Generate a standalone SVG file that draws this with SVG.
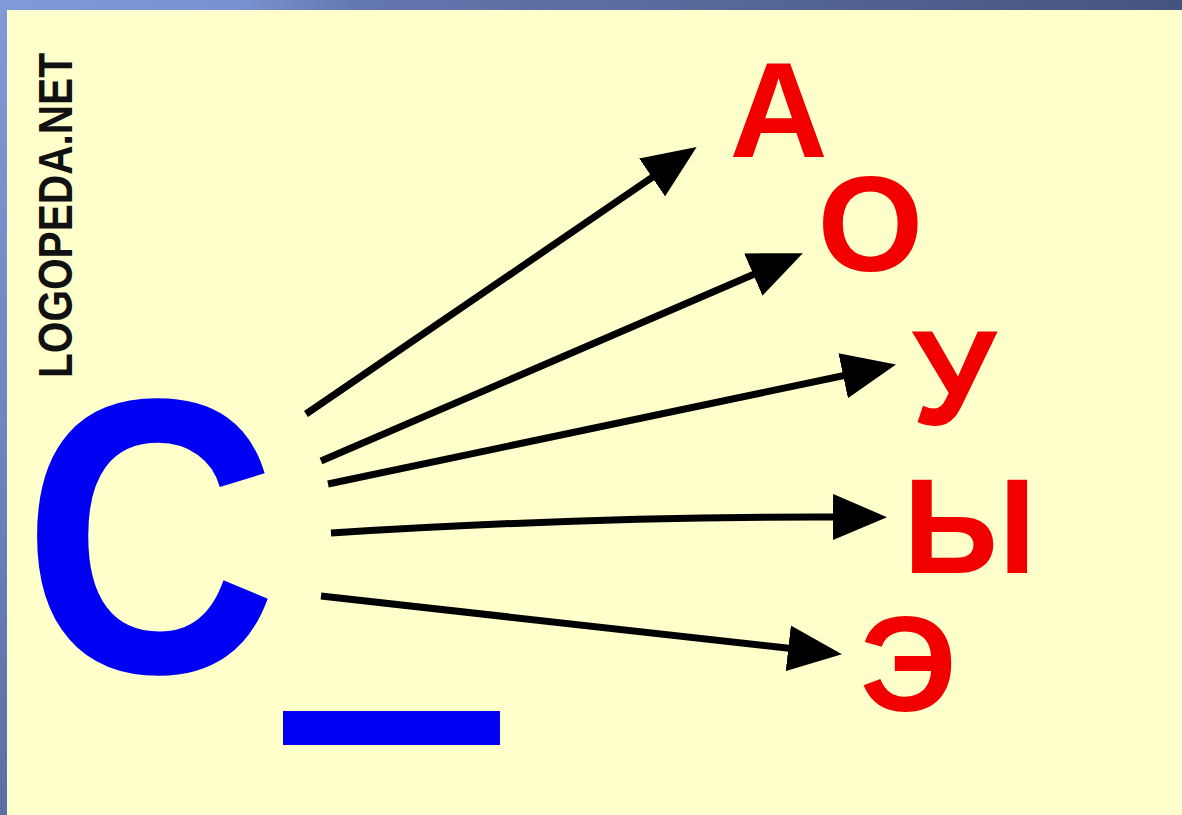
<svg xmlns="http://www.w3.org/2000/svg" width="1182" height="815" viewBox="0 0 1182 815">
  <style>
    .big { font-family: "Liberation Sans", Arial, sans-serif; font-weight: bold; text-anchor: middle; }
    .vowel { fill: #f20000; font-size: 136px; }
    .cons { fill: #0000f2; font-size: 392px; }
    .logo { font-family: "Liberation Sans", Arial, sans-serif; font-weight: bold; font-size: 48px; fill: #111; }
    .arrow { fill: none; stroke: #000; stroke-width: 7; marker-end: url(#head); }
  </style>
  <defs>
    <linearGradient id="topbar" x1="0" y1="0" x2="1" y2="0">
      <stop offset="0" stop-color="#8099d8"/>
      <stop offset="0.2" stop-color="#7a92d0"/>
      <stop offset="0.3" stop-color="#6478b0"/>
      <stop offset="1" stop-color="#44547e"/>
    </linearGradient>
    <linearGradient id="leftbar" x1="0" y1="0" x2="0" y2="1">
      <stop offset="0" stop-color="#8099d8"/>
      <stop offset="0.5" stop-color="#6f86c2"/>
      <stop offset="1" stop-color="#5a6ea6"/>
    </linearGradient>
    <marker id="head" markerUnits="userSpaceOnUse" markerWidth="54" markerHeight="46" viewBox="0 0 54 46" refX="12" refY="23" orient="auto">
      <path d="M0,0 L54,23 L0,46 Z" fill="#000"/>
    </marker>
  </defs>

  <rect x="0" y="0" width="1182" height="815" fill="#ffffcc"/>
  <rect x="0" y="0" width="1182" height="10" fill="url(#topbar)"/>
  <rect x="0" y="0" width="7" height="815" fill="url(#leftbar)"/>

  <g id="logo">
    <text class="logo" transform="translate(72,378) rotate(-90)" textLength="325" lengthAdjust="spacingAndGlyphs">LOGOPEDA.NET</text>
  </g>

  <g id="node-c">
    <text class="big cons" transform="translate(150,672) scale(0.9,1)" x="0" y="0">С</text>
    <rect x="283" y="711" width="217" height="34" fill="#0000f2"/>
  </g>

  <g id="connectors">
    <path class="arrow" d="M306,414 L662,170.6"/>
    <path class="arrow" d="M321,461 L764.3,269.8"/>
    <path class="arrow" d="M328,484 L854.9,373.2"/>
    <path class="arrow" d="M331,533 Q600,516 845,517"/>
    <path class="arrow" d="M321,596 L800.2,649.6"/>
  </g>

  <g id="node-a"><text class="big vowel" x="778.5" y="157">А</text></g>
  <g id="node-o"><text class="big vowel" x="870.5" y="271">О</text></g>
  <g id="node-u"><text class="big vowel" x="954" y="425">У</text></g>
  <g id="node-y"><text class="big vowel" x="969.5" y="573">Ы</text></g>
  <g id="node-e"><text class="big vowel" x="908.5" y="711">Э</text></g>
</svg>
